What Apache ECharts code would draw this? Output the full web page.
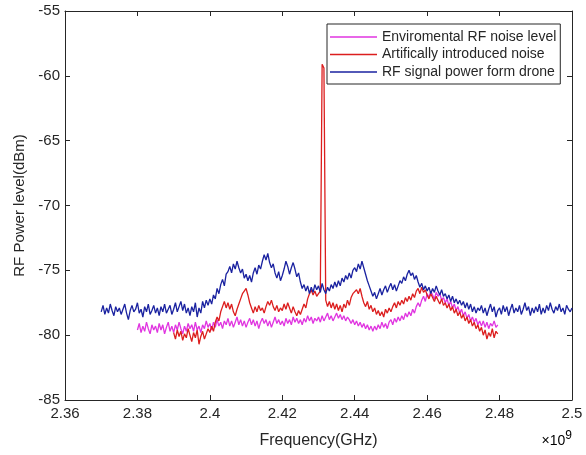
<!DOCTYPE html>
<html>
<head>
<meta charset="utf-8">
<script src="https://cdn.jsdelivr.net/npm/echarts@6/dist/echarts.min.js"></script>
<style>
html,body{margin:0;padding:0;background:#fff;}
#chart{width:586px;height:455px;}
</style>
</head>
<body>
<div id="chart"></div>
<script>
// ---- data (frequency in Hz, step 0.5 MHz) ----
const seriesNames = ['Enviromental RF noise level', 'Artifically introduced noise', 'RF signal power form drone'];
const stepHz = 5e5;

const envStart = 2.380e9;
const envValues = [
-79.6,-79.1,-79.8,-79.3,-79.7,-79.0,-79.5,-79.9,-79.2,-79.6,
-79.3,-79.8,-79.1,-79.6,-79.2,-79.9,-79.4,-79.0,-79.7,-79.3,
-79.8,-79.2,-79.6,-79.0,-79.5,-79.9,-79.3,-79.7,-79.1,-79.5,
-79.2,-79.7,-79.0,-79.6,-79.3,-79.8,-79.2,-79.5,-78.9,-79.4,
-79.1,-79.6,-79.0,-79.4,-78.8,-79.3,-79.0,-79.5,-78.9,-79.2,
-78.7,-79.3,-78.9,-79.4,-79.0,-78.6,-79.2,-78.8,-79.3,-78.9,
-79.4,-79.0,-78.7,-79.2,-78.8,-79.3,-78.9,-79.5,-79.0,-78.7,
-79.1,-78.8,-79.3,-78.9,-79.4,-79.0,-78.6,-79.1,-78.8,-79.2,
-78.9,-79.3,-78.7,-79.1,-78.8,-79.2,-78.6,-79.0,-78.7,-79.1,
-78.8,-79.2,-78.7,-79.0,-78.5,-78.9,-78.6,-79.1,-78.7,-78.9,
-78.6,-79.0,-78.5,-78.9,-78.6,-78.3,-78.8,-78.5,-78.9,-78.6,
-78.3,-78.7,-78.4,-78.8,-78.5,-78.9,-78.6,-78.8,-79.1,-78.8,
-79.2,-78.9,-79.3,-79.0,-79.4,-79.1,-79.5,-79.2,-79.6,-79.3,
-79.7,-79.3,-79.6,-79.2,-79.5,-79.0,-79.4,-79.1,-79.5,-79.0,
-78.8,-79.2,-78.7,-79.0,-78.6,-78.9,-78.5,-78.8,-78.3,-78.6,
-78.2,-78.5,-78.0,-78.3,-77.8,-77.5,-77.8,-77.3,-77.0,-77.4,
-76.8,-77.1,-76.6,-76.9,-77.2,-76.7,-77.0,-76.8,-77.3,-77.1,
-77.5,-77.2,-77.7,-77.4,-77.9,-77.6,-78.1,-77.8,-78.3,-78.0,
-78.5,-78.2,-78.7,-78.4,-78.9,-78.6,-79.0,-78.7,-79.2,-78.9,
-79.3,-78.9,-79.4,-79.0,-79.5,-79.1,-79.3,-78.9,-79.4,-79.2
];

const noiseStart = 2.390e9;
const noiseValues = [
-79.8,-80.3,-79.6,-80.1,-79.7,-80.4,-79.9,-80.2,-79.5,-80.0,
-80.5,-79.8,-80.2,-79.6,-80.7,-80.1,-79.7,-80.3,-79.9,-79.5,
-79.8,-79.3,-79.7,-79.0,-78.6,-78.9,-78.2,-77.8,-77.4,-77.9,
-77.5,-78.0,-77.6,-78.2,-78.5,-78.0,-77.6,-77.2,-76.8,-76.6,
-76.4,-76.9,-77.5,-77.9,-78.3,-77.8,-78.2,-77.7,-78.1,-77.9,
-78.3,-77.8,-77.4,-77.7,-77.3,-77.8,-78.1,-77.7,-78.2,-77.9,
-78.1,-77.6,-78.0,-77.5,-77.9,-78.3,-77.8,-78.2,-78.5,-78.1,
-78.4,-78.0,-77.6,-77.9,-77.2,-76.8,-76.5,-76.9,-76.6,-77.0,
-76.8,-76.6,-59.1,-59.4,-77.3,-77.8,-77.4,-77.9,-77.5,-78.0,
-77.6,-78.1,-77.7,-78.2,-77.6,-77.9,-77.3,-77.7,-77.1,-76.8,
-76.9,-76.5,-76.8,-76.4,-77.0,-77.5,-77.8,-77.4,-78.0,-77.7,
-78.2,-77.9,-78.4,-78.1,-78.5,-78.2,-78.6,-78.0,-78.3,-77.9,
-78.2,-77.8,-77.5,-77.9,-77.4,-77.7,-77.3,-77.6,-77.1,-77.4,
-77.0,-77.3,-76.8,-77.1,-76.6,-76.4,-76.8,-76.3,-76.7,-76.5,
-76.9,-77.2,-76.8,-77.1,-77.4,-77.0,-77.3,-77.6,-77.2,-77.7,
-77.5,-77.9,-77.6,-78.1,-77.8,-78.3,-78.0,-78.5,-78.2,-78.7,
-78.4,-78.9,-78.6,-79.1,-78.8,-79.3,-79.0,-79.5,-79.2,-79.7,
-79.4,-80.0,-79.6,-80.3,-79.8,-80.1,-79.5,-80.2,-79.7,-79.9
];

const droneStart = 2.370e9;
const droneValues = [
-78.2,-77.7,-78.4,-77.9,-78.3,-77.6,-78.1,-78.5,-77.8,-78.2,
-77.9,-78.4,-78.0,-77.6,-78.3,-78.8,-78.1,-77.7,-78.2,-78.0,
-77.5,-78.3,-78.0,-78.6,-77.8,-78.2,-77.6,-78.4,-78.1,-77.7,
-78.3,-77.9,-78.5,-77.8,-78.2,-77.6,-78.3,-78.0,-77.7,-78.4,
-78.0,-77.5,-78.2,-77.8,-77.4,-78.1,-77.6,-78.3,-77.9,-78.5,
-77.8,-78.2,-77.5,-78.6,-77.9,-78.3,-77.4,-77.9,-77.3,-77.7,
-77.2,-77.6,-76.9,-77.2,-76.4,-76.8,-76.1,-75.7,-76.2,-75.3,
-75.1,-74.7,-75.2,-74.5,-74.9,-74.3,-74.8,-75.2,-74.9,-75.6,
-75.3,-75.8,-75.4,-75.9,-75.2,-74.8,-75.3,-74.6,-74.9,-74.3,
-73.8,-74.2,-73.7,-74.4,-74.8,-74.5,-75.2,-75.6,-75.1,-75.8,
-75.4,-74.9,-74.3,-74.7,-75.3,-74.8,-74.4,-74.9,-75.5,-75.2,
-75.9,-76.4,-76.1,-76.6,-76.2,-76.8,-76.3,-76.7,-76.1,-76.5,
-76.2,-76.7,-76.0,-76.5,-76.8,-76.3,-76.6,-76.1,-76.4,-75.9,
-76.3,-75.8,-76.2,-75.6,-75.9,-75.4,-75.7,-75.2,-75.6,-75.0,
-74.8,-75.1,-74.5,-74.9,-74.3,-74.8,-75.3,-75.8,-76.2,-76.6,
-77.0,-76.7,-77.2,-76.8,-76.4,-76.9,-76.5,-76.2,-76.7,-76.3,
-76.0,-76.5,-76.1,-76.6,-76.2,-75.8,-76.0,-75.5,-75.8,-75.3,
-75.0,-75.4,-75.2,-75.7,-75.4,-75.9,-76.3,-76.0,-76.5,-76.2,
-76.6,-76.3,-76.8,-76.4,-76.7,-76.2,-76.6,-76.9,-76.5,-77.0,
-76.8,-77.2,-76.9,-77.4,-77.0,-77.5,-77.2,-77.6,-77.3,-77.7,
-77.4,-77.9,-77.5,-78.0,-77.6,-78.2,-77.8,-78.3,-77.9,-78.1,
-77.7,-78.3,-77.9,-78.5,-78.0,-77.6,-78.2,-77.8,-78.6,-78.1,
-77.9,-78.4,-77.7,-78.2,-77.8,-78.5,-78.0,-77.6,-78.3,-77.9,
-78.2,-77.7,-78.4,-78.0,-77.5,-78.1,-77.8,-78.5,-77.9,-78.3,
-77.8,-78.2,-77.6,-78.4,-77.9,-78.3,-77.7,-78.1,-77.5,-78.0,
-78.3,-77.8,-78.1,-77.6,-78.2,-77.9,-78.4,-77.7,-78.0,-78.2,
-77.9
];

const xMin = 2.36e9, xMax = 2.5e9, xInterval = 2e7;
const yMin = -85, yMax = -55, yInterval = 5;

// ---- build ----
function toPairs(start, vals) {
  return vals.map((v, i) => [start + i * stepHz, v]);
}
const FONT = '"Liberation Sans", Arial, Helvetica, sans-serif';
const AXIS_COLOR = '#262626';
const colors = ['#e035e0', '#dc1e1e', '#1a22a0'];

const chart = echarts.init(document.getElementById('chart'), null, {renderer: 'canvas'});

const tickStyle = {show: true, inside: true, length: 5, lineStyle: {color: AXIS_COLOR, width: 1}};
const lineStyleAxis = {show: true, lineStyle: {color: AXIS_COLOR, width: 1}};

chart.setOption({
  backgroundColor: '#ffffff',
  animation: false,
  grid: {left: 65, right: 14, top: 11, bottom: 55, containLabel: false},
  legend: {
    orient: 'vertical',
    left: 327, top: 24,
    data: seriesNames,
    icon: 'rect',
    itemWidth: 47, itemHeight: 1.3, itemGap: 3.5,
    padding: [6, 4, 5, 3],
    borderColor: AXIS_COLOR, borderWidth: 1,
    backgroundColor: '#ffffff',
    textStyle: {fontFamily: FONT, fontSize: 14, color: AXIS_COLOR, lineHeight: 14}
  },
  xAxis: [
    {
      type: 'value', min: xMin, max: xMax, interval: xInterval, position: 'bottom',
      name: 'Frequency(GHz)', nameLocation: 'middle', nameGap: 33,
      nameTextStyle: {fontFamily: FONT, fontSize: 16, color: AXIS_COLOR},
      axisLine: lineStyleAxis, axisTick: tickStyle, splitLine: {show: false},
      axisLabel: {
        fontFamily: FONT, fontSize: 15, color: AXIS_COLOR, margin: 6,
        formatter: v => String(Number((v / 1e9).toFixed(2)))
      }
    },
    {
      type: 'value', min: xMin, max: xMax, interval: xInterval, position: 'top',
      axisLine: lineStyleAxis, axisTick: tickStyle, axisLabel: {show: false}, splitLine: {show: false}
    }
  ],
  yAxis: [
    {
      type: 'value', min: yMin, max: yMax, interval: yInterval, position: 'left',
      name: 'RF Power level(dBm)', nameLocation: 'middle', nameGap: 33, nameRotate: 90,
      nameTextStyle: {fontFamily: FONT, fontSize: 15, color: AXIS_COLOR},
      axisLine: lineStyleAxis, axisTick: tickStyle, splitLine: {show: false},
      axisLabel: {fontFamily: FONT, fontSize: 15, color: AXIS_COLOR, margin: 5}
    },
    {
      type: 'value', min: yMin, max: yMax, interval: yInterval, position: 'right',
      axisLine: lineStyleAxis, axisTick: tickStyle, axisLabel: {show: false}, splitLine: {show: false}
    }
  ],
  graphic: [{
    type: 'text', right: 14, top: 430,
    style: {
      text: '{a|×10}{s|9}',
      rich: {
        a: {fontFamily: FONT, fontSize: 14, color: AXIS_COLOR, verticalAlign: 'bottom', lineHeight: 18},
        s: {fontFamily: FONT, fontSize: 12, color: AXIS_COLOR, verticalAlign: 'top', lineHeight: 18, padding: [0, 0, 8, 0]}
      }
    }
  }],
  series: [
    {name: seriesNames[0], type: 'line', data: toPairs(envStart, envValues), symbol: 'none',
     lineStyle: {color: colors[0], width: 1.3}, itemStyle: {color: colors[0]}},
    {name: seriesNames[1], type: 'line', data: toPairs(noiseStart, noiseValues), symbol: 'none',
     lineStyle: {color: colors[1], width: 1.3}, itemStyle: {color: colors[1]}},
    {name: seriesNames[2], type: 'line', data: toPairs(droneStart, droneValues), symbol: 'none',
     lineStyle: {color: colors[2], width: 1.3}, itemStyle: {color: colors[2]}}
  ]
});
</script>
</body>
</html>
